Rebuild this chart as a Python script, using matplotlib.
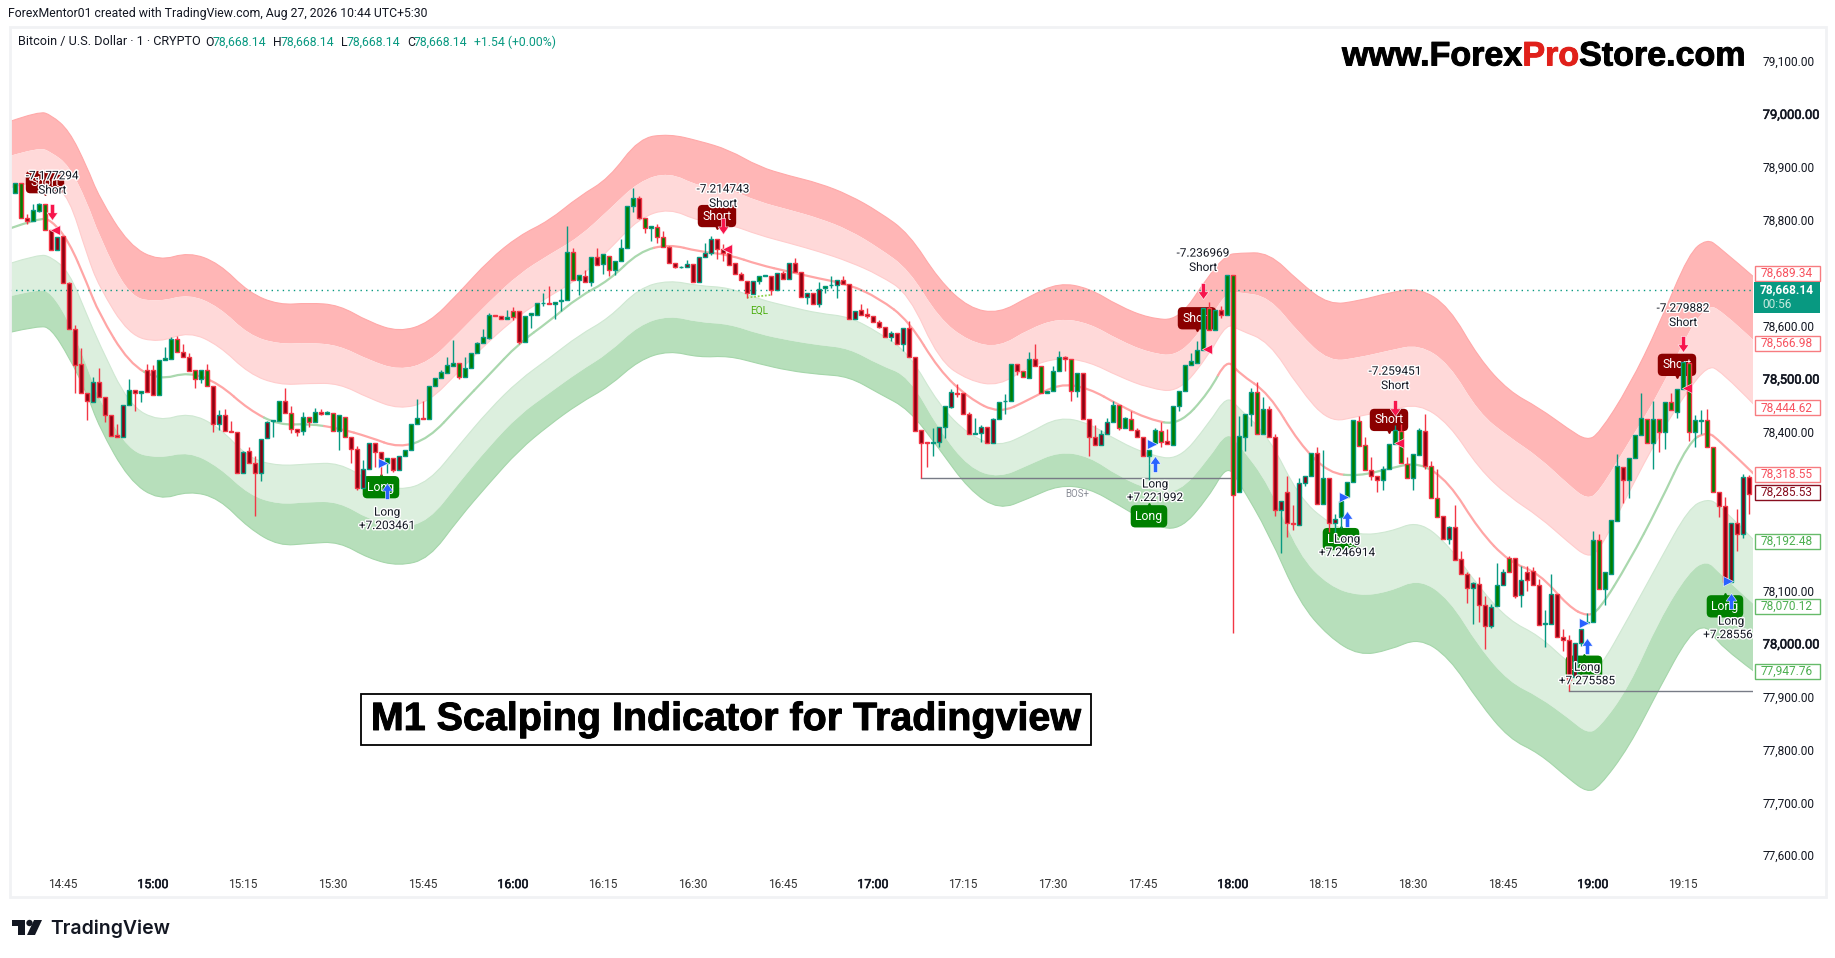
import matplotlib
matplotlib.use('Agg')
import matplotlib.pyplot as plt
import matplotlib.patheffects as pe
from matplotlib.patches import Rectangle, Polygon, Circle, PathPatch
from matplotlib.path import Path
from matplotlib.transforms import IdentityTransform
import numpy as np

W, H = 1835, 958
plt.rcParams['font.family'] = ['Roboto', 'DejaVu Sans']

# candles, one value per minute bar from 14:37 (minutes counted from 15:00)
body_top = [78869,78869,78803,78819,78830,78829,78780,78768,78769,78680,
78593,78527,78472,78493,78493,78465,78432,78393,78451,78478,
78478,78477,78517,78517,78536,78539,78575,78575,78551,78540,
78516,78516,78516,78486,78432,78432,78402,78400,78361,78363,
78340,78386,78419,78422,78458,78458,78436,78404,78427,78427,
78437,78437,78437,78436,78431,78428,78390,78368,78330,78379,
78379,78362,78351,78351,78354,78366,78415,78425,78425,78487,
78502,78512,78525,78529,78529,78521,78548,78567,78578,78620,
78620,78619,78617,78628,78628,78619,78623,78642,78643,78643,
78645,78648,78740,78740,78696,78694,78730,78730,78735,78732,
78723,78746,78826,78841,78841,78804,78788,78787,78767,78748,
78719,78711,78717,78717,78730,78738,78763,78763,78744,78737,
78718,78697,78685,78684,78694,78695,78694,78699,78699,78718,
78718,78702,78661,78661,78670,78675,78677,78686,78686,78678,
78628,78629,78622,78619,78606,78598,78587,78587,78595,78595,
78540,78403,78380,78380,78408,78448,78474,78472,78472,78433,
78397,78408,78408,78423,78455,78458,78527,78527,78515,78538,
78538,78524,78476,78514,78540,78540,78537,78510,78510,78423,
78389,78395,78419,78451,78450,78425,78424,78403,78389,78366,
78403,78402,78382,78448,78477,78526,78533,78554,78633,78633,
78630,78629,78696,78696,78391,78434,78474,78474,78442,78442,
78389,78268,78285,78228,78302,78317,78360,78360,78312,78312,
78235,78269,78304,78422,78420,78374,78328,78316,78330,78377,
78403,78401,78338,78357,78403,78401,78335,78275,78241,78219,
78219,78160,78131,78114,78113,78073,78069,78111,78134,78162,
78162,78120,78135,78137,78111,78039,78094,78094,78012,78007,
78000,78028,78040,78195,78196,78134,78233,78335,78333,78351,
78393,78425,78424,78423,78423,78456,78456,78481,78531,78530,
78421,78422,78421,78371,78286,78259,78228,78228,78315,78315]

body_bot = [78851,78803,78797,78797,78817,78780,78742,78742,78680,78593,
78526,78472,78458,78456,78465,78431,78392,78390,78390,78450,
78472,78472,78475,78469,78470,78536,78538,78551,78540,78515,
78500,78500,78486,78414,78414,78402,78399,78321,78321,78340,
78322,78322,78387,78420,78420,78436,78404,78400,78402,78419,
78419,78434,78434,78402,78402,78390,78368,78294,78294,78330,
78362,78349,78340,78327,78328,78354,78366,78415,78423,78423,
78487,78501,78511,78524,78504,78504,78521,78548,78567,78577,
78618,78612,78612,78617,78570,78570,78621,78621,78642,78640,
78640,78647,78648,78686,78686,78682,78683,78714,78716,78705,
78705,78723,78746,78826,78804,78784,78784,78767,78748,78719,
78710,78710,78710,78682,78683,78730,78738,78744,78737,78715,
78697,78686,78661,78659,78684,78694,78667,78667,78688,78688,
78702,78654,78654,78640,78640,78671,78676,78676,78678,78612,
78612,78621,78619,78606,78598,78578,78578,78565,78565,78540,
78402,78379,78378,78378,78380,78408,78447,78471,78433,78395,
78395,78397,78378,78378,78423,78457,78457,78515,78503,78502,
78524,78472,78472,78476,78514,78537,78477,78477,78423,78389,
78375,78375,78395,78419,78407,78407,78403,78389,78353,78353,
78378,78381,78376,78375,78448,78476,78525,78530,78555,78592,
78591,78621,78621,78281,78285,78390,78433,78395,78395,78389,
78251,78251,78227,78225,78224,78302,78317,78264,78264,78228,
78228,78238,78276,78304,78372,78328,78316,78308,78308,78330,
78377,78340,78313,78313,78356,78335,78275,78238,78198,78198,
78158,78131,78105,78105,78073,78033,78033,78071,78111,78134,
78090,78091,78120,78111,78034,78036,78037,78012,78007,77930,
77936,78000,78039,78040,78102,78102,78132,78231,78309,78308,
78351,78393,78379,78379,78400,78400,78440,78437,78481,78400,
78400,78420,78371,78285,78259,78116,78116,78207,78207,78283]

wick_hi = [78869,78869,78811,78830,78832,78829,78780,78768,78769,78683,
78601,78557,78472,78504,78521,78465,78432,78415,78451,78500,
78478,78477,78527,78526,78536,78560,78579,78580,78565,78548,
78517,78516,78527,78486,78441,78442,78420,78400,78363,78370,
78354,78386,78420,78422,78458,78483,78448,78404,78437,78427,
78445,78442,78438,78436,78431,78428,78390,78373,78346,78379,
78379,78362,78351,78351,78354,78366,78415,78461,78458,78487,
78502,78517,78541,78573,78529,78540,78548,78570,78593,78623,
78620,78619,78630,78635,78628,78619,78623,78642,78661,78675,
78645,78669,78788,78746,78696,78705,78730,78746,78735,78732,
78723,78763,78826,78860,78844,78804,78788,78792,78779,78751,
78719,78713,78724,78717,78730,78756,78769,78763,78754,78737,
78718,78701,78685,78684,78694,78695,78694,78699,78703,78718,
78727,78702,78661,78661,78682,78675,78694,78686,78694,78678,
78628,78641,78634,78619,78611,78598,78590,78587,78595,78609,
78540,78403,78380,78406,78408,78448,78480,78490,78472,78437,
78426,78412,78408,78426,78455,78471,78527,78527,78515,78551,
78566,78524,78476,78523,78553,78543,78537,78510,78510,78423,
78412,78403,78425,78457,78450,78428,78438,78406,78389,78366,
78406,78419,78405,78448,78477,78526,78549,78572,78633,78644,
78630,78637,78696,78696,78429,78434,78482,78494,78466,78448,
78395,78268,78316,78261,78312,78317,78360,78371,78365,78312,
78245,78269,78304,78422,78429,78390,78352,78316,78335,78377,
78412,78415,78352,78357,78406,78434,78345,78330,78241,78221,
78261,78175,78135,78116,78126,78090,78074,78151,78141,78165,
78162,78146,78146,78144,78122,78064,78132,78094,78028,78015,
78000,78028,78057,78212,78206,78134,78233,78357,78333,78351,
78393,78473,78424,78458,78423,78456,78473,78481,78531,78530,
78431,78440,78442,78371,78286,78277,78228,78253,78319,78318]

wick_lo = [78851,78803,78792,78797,78815,78780,78742,78742,78680,78593,
78472,78472,78422,78456,78465,78419,78392,78390,78390,78450,
78439,78455,78475,78469,78470,78536,78538,78551,78540,78515,
78483,78492,78486,78400,78403,78402,78399,78321,78321,78340,
78241,78307,78387,78390,78420,78436,78397,78391,78393,78409,
78419,78431,78434,78402,78366,78390,78340,78289,78294,78330,
78334,78318,78322,78324,78328,78354,78366,78415,78423,78423,
78487,78501,78511,78524,78499,78504,78521,78548,78567,78575,
78618,78612,78612,78611,78565,78570,78596,78621,78637,78640,
78613,78628,78648,78686,78657,78682,78675,78714,78698,78693,
78696,78723,78746,78815,78801,78775,78759,78757,78748,78719,
78708,78708,78710,78682,78683,78730,78734,78725,78722,78715,
78697,78686,78652,78659,78679,78694,78657,78667,78688,78688,
78702,78654,78641,78640,78635,78662,78671,78652,78678,78612,
78612,78621,78615,78606,78596,78578,78572,78565,78552,78540,
78402,78312,78334,78353,78371,78387,78445,78466,78433,78395,
78395,78381,78378,78378,78423,78434,78457,78507,78503,78502,
78524,78472,78472,78476,78514,78515,78458,78466,78423,78353,
78375,78375,78395,78419,78403,78407,78403,78389,78353,78308,
78375,78371,78376,78375,78439,78476,78525,78530,78555,78592,
78591,78614,78621,78020,78285,78364,78411,78395,78395,78389,
78240,78170,78201,78215,78224,78297,78317,78264,78264,78211,
78211,78217,78276,78304,78372,78328,78308,78286,78289,78330,
78377,78340,78313,78289,78356,78330,78275,78238,78198,78188,
78158,78131,78076,78037,78040,77990,78030,78071,78111,78134,
78085,78069,78099,78111,78034,77993,78037,78012,77986,77911,
77936,77996,78039,78040,78102,78072,78132,78231,78265,78275,
78351,78393,78379,78329,78362,78368,78440,78426,78481,78383,
78371,78396,78371,78285,78239,78116,78116,78175,78199,78244]

# U/D is the candle direction (border), g/r the indicator colour of the body
directions = ("UDDUUDDUDD" "DDDUDDDDUU" "DUDDUUUDDD" "DUDDUDDDUD" "DUUUUDDDUD"
              "UDUDUDDDUU" "DDUDUUUUDU" "UUUUDUUUUU" "DDUDDUUUUD" "UUUDUDUDUD"
              "UUUUDDUDDD" "DUUDUUUDDD" "DDDUUUDUDU" "DDUDUUUUDD" "UDDDDDUDUD"
              "DDDUUUUDDD" "UUDUUUUDDU" "DDUUUDDUDD" "DUUUDUDDDU" "UDDUUUUUUD"
              "UDUDUUUDUD" "DUDDUUUDUD" "UUUUDDDDUU" "UDDUUDDDDU" "DDDUDDUUUD"
              "DUDDDUUDDD" "UUUUDUUUDU" "UUDUDUDUUD" "UUDDDDUDUD")
fills = ("ggrgggrrrr" "rrrrrrrrrg" "rgrrggggrr" "gggrrrrrrr" "rrrggrgrgg"
         "grggggrrrr" "rrgrrgggrg" "gggggggggg" "rrggrggggr" "gggggrgrgg"
         "ggggrggggr" "rgrrrrrrrr" "rrrrggrrrr" "rrrrrggrrr" "rrrrrrrrrr"
         "rrrgrgrrrr" "grrrgggrgg" "rggggrggrr" "rrrggggrrg" "ggrggggggg"
         "grgggggggr" "rrrrrrgrgr" "rgggggrrgg" "gggggrggrr" "rrrrrrrgrg"
         "rrrrrgrrrr" "rrggggggrg" "gggggggggg" "ggggrrrrrr")

# band edges, read about every 5 minutes plus the turning points
band_minutes = [-24, -19, -17, -14, -11, -9, -4, 1, 6, 11, 16, 21, 26, 31, 36, 41, 46, 51, 56, 61, 66, 71, 76, 81, 86,
                91, 96, 101, 106, 111, 116, 121, 126, 131, 136, 141, 146, 151, 156, 161, 166, 171, 176, 179, 181,
                186, 191, 196, 201, 206, 211, 216, 221, 226, 231, 236, 239, 241, 246, 251, 256, 259, 261, 267]
band_upper1 = [78985,79005,78998,78969,78900,78843,78752,78722,78739,78718,78662,78639,78643,78639,78607,78588,78605,78662,
78724,78770,78798,78844,78878,78954,78962,78949,78932,78900,78883,78869,78847,78815,78774,
78686,78633,78623,78655,78681,78671,78637,78614,78610,78696,78734,78737,78738,78683,78639,78647,
78662,78672,78636,78538,78476,78445,78404,78383,78396,78485,78601,78737,78764,78749,78690]
band_upper2 = [78920,78937,78928,78903,78834,78771,78654,78645,78660,78636,78582,78565,78568,78563,78535,78516,78531,78587,
78645,78698,78734,78767,78819,78873,78890,78863,78858,78834,78819,78803,78781,78747,78706,
78614,78570,78559,78594,78614,78605,78573,78549,78542,78611,78664,78663,78655,78586,78532,78540,
78553,78565,78529,78435,78390,78352,78299,78272,78286,78381,78472,78592,78636,78634,78570]
band_upper3 = [78860,78875,78869,78843,78734,78674,78582,78568,78589,78563,78509,78488,78491,78491,78463,78442,78456,78514,
78571,78620,78655,78689,78743,78803,78822,78797,78792,78771,78756,78740,78721,78696,78660,
78534,78496,78486,78523,78540,78532,78504,78482,78474,78545,78605,78592,78570,78482,78417,78429,
78440,78453,78415,78330,78277,78240,78190,78163,78173,78286,78393,78481,78522,78519,78449]
trend_line = [78783,78803,78800,78759,78680,78623,78529,78497,78513,78491,78441,78412,78415,78406,78390,78369,78387,78448,
78507,78567,78608,78655,78685,78740,78754,78740,78734,78715,78702,78689,78678,78652,78609,
78516,78463,78434,78460,78491,78482,78450,78423,78412,78474,78538,78510,78472,78378,78321,78316,
78330,78343,78305,78214,78154,78133,78069,78051,78062,78154,78261,78381,78400,78384,78318]
# the line changes colour at these minutes, it starts green
trend_switch = [-18, 0, 8, 19, 30, 42, 84.5, 169.5, 179, 199, 213, 239.5, 258]
band_lower3 = [78717,78735,78730,78702,78620,78567,78450,78419,78436,78409,78349,78335,78339,78341,78308,78288,78305,78374,
78441,78497,78538,78582,78614,78671,78686,78675,78672,78650,78636,78623,78617,78587,78548,
78450,78393,78371,78397,78428,78416,78381,78356,78346,78416,78468,78444,78390,78276,78226,78204,
78210,78232,78185,78106,78043,78015,77962,77946,77950,78050,78154,78256,78273,78263,78193]
band_lower2 = [78655,78669,78662,78608,78523,78460,78362,78349,78362,78333,78280,78262,78267,78267,78234,78217,78231,78303,
78371,78431,78472,78513,78548,78601,78619,78606,78603,78584,78572,78563,78557,78526,78504,
78403,78331,78312,78337,78362,78353,78315,78290,78283,78349,78400,78375,78300,78166,78108,78089,
78097,78122,78084,77993,77927,77899,77858,77830,77839,77917,78043,78135,78157,78133,78072]
band_lower1 = [78587,78600,78595,78541,78472,78409,78308,78270,78288,78274,78217,78184,78189,78192,78160,78146,78160,78236,
78302,78365,78412,78453,78485,78535,78553,78540,78543,78528,78515,78508,78504,78472,78442,
78368,78290,78252,78274,78299,78293,78261,78227,78211,78277,78337,78305,78207,78078,78012,77977,
77987,78011,77974,77889,77820,77793,77744,77719,77728,77804,77914,78017,78036,77996,77946]

# signals
short_values = ["-7.177294", "-7.214743", "-7.236969", "-7.259451", "-7.279882"]
short_text_x = [-16.8, 95, 175, 207, 255]
short_text_price = [78883, 78858, 78737, 78514, 78633]
short_box_x = [-18, 94, 174, 206, 254]
short_box_price = [78871, 78807, 78614, 78422, 78526]
short_arrow_price = [78814, 78788, 78666, 78445, 78565]
short_tri_x = [-16.3, 95.7, 175.7, 207.7, 255.7]
short_tri_price = [78781, 78745, 78556, 78378, 78482]

long_values = ["+7.203461", "+7.221992", "+7.246914", "+7.275585", "+7.28556"]
long_text_x = [39, 167, 199, 239, 263]
long_text_price = [78248, 78301, 78197, 77955, 78042]
long_value_x = [39, 167, 199, 239, 262.5]
long_box_x = [38, 166, 198, 238.5, 262]
long_box_price = [78295, 78240, 78197, 77956, 78070]
long_arrow_price = [78288, 78339, 78234, 77996, 78081]
long_tri_x = [38.3, 166.5, 198.5, 238.5, 262.5]
long_tri_price = [78341, 78376, 78276, 78038, 78118]

# axis labels
price_ticks = [77600, 77700, 77800, 77900, 78000, 78100, 78200, 78400, 78500,
               78600, 78800, 78900, 79000, 79100]
price_major = [78000, 78500, 79000]
time_ticks = list(range(-15, 256, 15))
time_labels = ["14:45", "15:00", "15:15", "15:30", "15:45", "16:00", "16:15", "16:30", "16:45",
               "17:00", "17:15", "17:30", "17:45", "18:00", "18:15", "18:30", "18:45", "19:00", "19:15"]
last_price = 78668.14
red_levels = [78566.98, 78444.62, 78318.55]
green_levels = [78192.48, 78070.12, 77947.76]

C_UP, C_DOWN = '#089981', '#f23645'
F_GREEN, F_RED = '#008000', '#8b0010'
BAND_RED, BAND_RED_L = '#ffb6b6', '#ffd9d9'
BAND_GRN, BAND_GRN_L = '#b7dfbb', '#dcefde'
TXT = '#131722'

fig = plt.figure(figsize=(W / 100, H / 100), dpi=100, facecolor='white')
ax = fig.add_axes([10 / W, (H - 860) / H, (1753 - 10) / W, (860 - 27) / H])
ax.set_xlim(-23.83, 266.67)
ax.set_ylim(77591, 79164)
for s in ax.spines.values():
    s.set_visible(False)
px_price = (79164 - 77591) / (860 - 27)

# frame around the chart
fig.add_artist(Rectangle((10, H - 897), 1816, 870, transform=IdentityTransform(),
                         fc='none', ec='#f1f2f4', lw=2))


# bands: the read values are the control points of quadratic curves, so edges stay round
def curve(xs, ys):
    verts = [(xs[0], ys[0])]
    codes = [Path.MOVETO]
    n = len(xs)
    for i in range(1, n - 1):
        end = (xs[n - 1], ys[n - 1]) if i == n - 2 else ((xs[i] + xs[i + 1]) / 2, (ys[i] + ys[i + 1]) / 2)
        verts += [(xs[i], ys[i]), end]
        codes += [Path.CURVE3, Path.CURVE3]
    return verts, codes


def band(top, bottom, col):
    v1, c1 = curve(band_minutes, top)
    v2, c2 = curve(band_minutes[::-1], bottom[::-1])
    c2[0] = Path.LINETO
    path = Path(v1 + v2 + [v1[0]], c1 + c2 + [Path.CLOSEPOLY])
    ax.add_patch(PathPatch(path, fc=col, ec='none', lw=0, zorder=1))


def edge_line(vals, col):
    v, c = curve(band_minutes, vals)
    ax.add_patch(PathPatch(Path(v, c), fc='none', ec=col, lw=0.8, zorder=1))


band(band_upper1, band_upper2, BAND_RED)
band(band_upper2, band_upper3, BAND_RED_L)
band(band_lower3, band_lower2, BAND_GRN_L)
band(band_lower2, band_lower1, BAND_GRN)
edge_line(band_upper1, '#ffa9a9')
edge_line(band_upper3, '#ffcccc')
edge_line(band_lower3, '#cfe8d2')
edge_line(band_lower1, '#a5d6aa')

for i in range(1, len(band_minutes) - 1):
    x0, x1, x2 = band_minutes[i - 1:i + 2]
    y0, y1, y2 = trend_line[i - 1:i + 2]
    start = (x0, y0) if i == 1 else ((x0 + x1) / 2, (y0 + y1) / 2)
    end = (x2, y2) if i == len(band_minutes) - 2 else ((x1 + x2) / 2, (y1 + y2) / 2)
    is_green = sum(1 for s in trend_switch if s <= x1) % 2 == 0
    col = '#aad8ae' if is_green else '#ffa6a6'
    seg = Path([start, (x1, y1), end], [Path.MOVETO, Path.CURVE3, Path.CURVE3])
    ax.add_patch(PathPatch(seg, fc='none', ec=col, lw=1.6, zorder=2, capstyle='round'))

# levels
ax.axhline(last_price, color=C_UP, ls=(0, (1, 3)), lw=1, zorder=2)
ax.plot([128, 180], [78312, 78312], color='#787b86', lw=1, zorder=2)
ax.plot([236, 267], [77911, 77911], color='#787b86', lw=1, zorder=2)
ax.plot([99, 103], [78653, 78658], color='#8fd14f', lw=1.3, ls=(0, (1, 1)), zorder=2)
ax.text(154, 78283, "BOS+", color='#8a8d97', fontsize=7, ha='center', va='center', zorder=2)
ax.text(101, 78628, "EQL", color='#4caf10', fontsize=7.2, ha='center', va='center', zorder=2)

# label boxes go under the candles
for x, p in zip(short_box_x, short_box_price):
    ax.text(x, p, "Short", color='white', fontsize=8.8, ha='center', va='center', zorder=3,
            bbox=dict(boxstyle='round,pad=0.38', fc='#8b0000', ec='none'))
    ax.plot([x], [p - 10 * px_price], marker='v', ms=4, color='#8b0000', zorder=3)
for x, p in zip(long_box_x, long_box_price):
    ax.text(x, p, "Long", color='white', fontsize=8.8, ha='center', va='center', zorder=3,
            bbox=dict(boxstyle='round,pad=0.38', fc='#008000', ec='none'))
    ax.plot([x], [p + 10 * px_price], marker='^', ms=4, color='#008000', zorder=3)

# candles
bar_x = np.arange(-23, 267)
tops = np.array(body_top)
bots = np.array(body_bot)
edge = [C_UP if d == 'U' else C_DOWN for d in directions]
face = [F_GREEN if f == 'g' else F_RED for f in fills]
ax.vlines(bar_x, wick_lo, wick_hi, colors=edge, lw=1, zorder=4)
ax.bar(bar_x, np.maximum(tops - bots, 1), bottom=bots, width=0.66, color=face, edgecolor=edge,
       linewidth=1, zorder=4)

# arrows and triangles
arrow_up = Path([(-0.27, -1), (0.27, -1), (0.27, 0.05), (0.68, 0.05), (0, 1), (-0.68, 0.05), (-0.27, 0.05), (-0.27, -1)])
arrow_down = Path([(-0.27, 1), (0.27, 1), (0.27, -0.05), (0.68, -0.05), (0, -1), (-0.68, -0.05), (-0.27, -0.05), (-0.27, 1)])
ax.plot(short_text_x, short_arrow_price, ls='none', marker=arrow_down, ms=11.5, color='#f7154c',
        mec='white', mew=0.4, zorder=5)
ax.plot(long_text_x, long_arrow_price, ls='none', marker=arrow_up, ms=11.5, color='#2962ff',
        mec='white', mew=0.4, zorder=5)
ax.plot(short_tri_x, short_tri_price, ls='none', marker='<', ms=7.5, color='#f7154c',
        mec='white', mew=0.4, zorder=5)
ax.plot(long_tri_x, long_tri_price, ls='none', marker='>', ms=7.5, color='#2962ff',
        mec='white', mew=0.4, zorder=5)

# signal texts with the white halo
halo = [pe.withStroke(linewidth=2, foreground='white')]
for x, p, v in zip(short_text_x, short_text_price, short_values):
    ax.text(x, p, v, color=TXT, fontsize=8.5, ha='center', va='center', zorder=6, path_effects=halo)
    ax.text(x, p - 14.3 * px_price, "Short", color=TXT, fontsize=8.5, ha='center', va='center',
            zorder=6, path_effects=halo)
for x, vx, p, v in zip(long_text_x, long_value_x, long_text_price, long_values):
    ax.text(x, p, "Long", color=TXT, fontsize=8.5, ha='center', va='center', zorder=6, path_effects=halo)
    ax.text(vx, p - 13.5 * px_price, v, color=TXT, fontsize=8.5, ha='center', va='center',
            zorder=6, path_effects=halo)

# axes text
heavy = [pe.withStroke(linewidth=0.4, foreground=TXT)]
ax.yaxis.tick_right()
ax.set_yticks(price_ticks)
ax.set_yticklabels([f"{v:,.2f}" for v in price_ticks], fontsize=8.6, color=TXT)
for lab, v in zip(ax.get_yticklabels(), price_ticks):
    if v in price_major:
        lab.set_fontsize(9.3)
        lab.set_path_effects(heavy)
ax.set_xticks(time_ticks)
ax.set_xticklabels(time_labels, fontsize=8.6, color='#333333')
for lab, t in zip(ax.get_xticklabels(), time_ticks):
    if t % 60 == 0:
        lab.set_color(TXT)
        lab.set_fontsize(9)
        lab.set_path_effects(heavy)
ax.tick_params(axis='y', length=0, pad=7)
ax.tick_params(axis='x', length=0, pad=13)


def ptext(x, y, s, **kw):
    kw.setdefault('va', 'center')
    return fig.text(x / W, 1 - y / H, s, **kw)


def price_box(y, s, ec, tc, fc='white'):
    fig.add_artist(Rectangle((1754.5, H - y - 7.5), 65, 15, transform=IdentityTransform(),
                             fc=fc, ec=ec, lw=1, zorder=10))
    t = ptext(1787, y, s, color=tc, fontsize=8.6, ha='center', zorder=11)
    return t


def price_y(p):
    return H - ax.transData.transform((0, p))[1]


# labels at the price scale
price_box(273, "78,689.34", '#f77c80', '#f7525f')
for p in red_levels:
    price_box(price_y(p), f"{p:,.2f}", '#f77c80', '#f7525f')
price_box(price_y(78285.53), "78,285.53", '#880e1f', '#880e1f')
for p in green_levels:
    price_box(price_y(p), f"{p:,.2f}", '#66bb6a', '#4caf50')
fig.add_artist(Rectangle((1754, H - 313), 66, 31, transform=IdentityTransform(),
                         fc=C_UP, ec='none', zorder=10))
ptext(1787, 290, f"{last_price:,.2f}", color='white', fontsize=8.6, ha='center', zorder=11, fontweight='bold')
ptext(1777, 304, "00:56", color='#c8eadf', fontsize=8.6, ha='center', zorder=11)

# header
ptext(8, 14, "ForexMentor01 created with TradingView.com, Aug 27, 2026 10:44 UTC+5:30",
      color=TXT, fontsize=8.8)
ptext(18, 42, "Bitcoin / U.S. Dollar · 1 · CRYPTO", color=TXT, fontsize=9.1)
for xa, lab, xb in [(205, "O", 213), (273, "H", 281), (341, "L", 347), (407, "C", 414)]:
    ptext(xa, 42, lab, color=TXT, fontsize=8.8)
    ptext(xb, 42, "78,668.14", color=C_UP, fontsize=8.8)
ptext(474, 42, "+1.54 (+0.00%)", color=C_UP, fontsize=8.8)

# site name, three colours next to each other
bold_black = [pe.withStroke(linewidth=0.7, foreground='black')]
renderer = fig.canvas.get_renderer()
xpos = 1342
for part, col in [("www.Forex", 'black'), ("Pro", '#e0201a'), ("Store.com", 'black')]:
    t = ptext(xpos, 57, part, color=col, fontsize=24.5, family='Liberation Sans', fontweight='bold',
              path_effects=[pe.withStroke(linewidth=0.7, foreground=col)])
    xpos = t.get_window_extent(renderer).x1

# caption
fig.add_artist(Rectangle((360.5, H - 745), 730, 51, transform=IdentityTransform(),
                         fc='white', ec='black', lw=1.3, zorder=10))
ptext(725, 720, "M1 Scalping Indicator for Tradingview", color='black', fontsize=28.4,
      family='Liberation Sans', fontweight='bold', ha='center', zorder=11, path_effects=bold_black)

# TradingView logo
logo = '#131722'
fig.add_artist(Polygon([(12, H - 920), (25, H - 920), (25, H - 935), (18, H - 935), (18, H - 926), (12, H - 926)],
                       transform=IdentityTransform(), fc=logo, ec='none'))
fig.add_artist(Circle((29.5, H - 923), 3.2, transform=IdentityTransform(), fc=logo, ec='none'))
fig.add_artist(Polygon([(34, H - 920), (42, H - 920), (35, H - 935), (27, H - 935)],
                       transform=IdentityTransform(), fc=logo, ec='none'))
ptext(50, 929, "TradingView", color=logo, fontsize=14, family='Inter', fontweight='semibold')

fig.savefig('out.png', dpi=100)
